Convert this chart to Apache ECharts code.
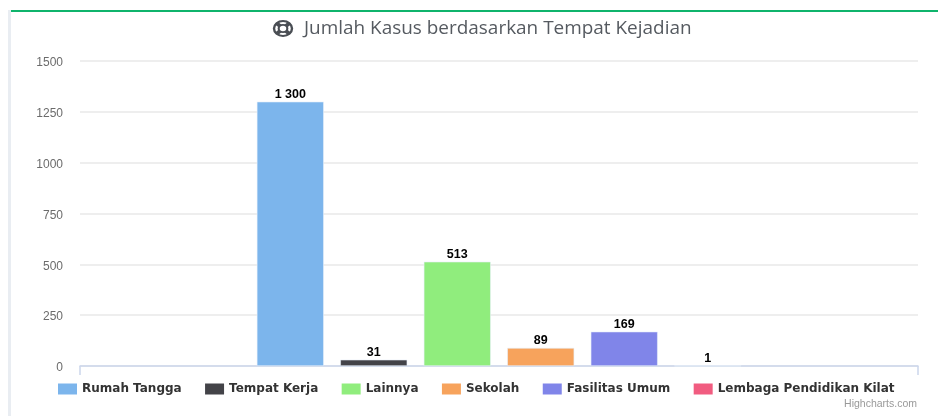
<!DOCTYPE html>
<html><head><meta charset="utf-8">
<style>html,body{margin:0;padding:0;background:#fff}#c{width:938px;height:416px}</style>
<script src="https://cdn.jsdelivr.net/npm/echarts@6/dist/echarts.min.js"></script>
</head><body><div id="c"></div>
<script>
const categoryLabels = ['Tempat Kejadian'];
const seriesNames = ['Rumah Tangga','Tempat Kerja','Lainnya','Sekolah','Fasilitas Umum','Lembaga Pendidikan Kilat'];
const seriesValues = [1300,31,513,89,169,1];
const seriesColors = ['#7cb5ec','#434348','#90ed7d','#f7a35c','#8085e9','#f15c80'];
const yTicks = [0,250,500,750,1000,1250,1500];
const titleText = 'Jumlah Kasus berdasarkan Tempat Kejadian';
const creditText = 'Highcharts.com';

const chart = echarts.init(document.getElementById('c'), null, {renderer:'canvas'});
chart.setOption({
  animation:false,
  backgroundColor:'#ffffff',
  title:[
    {text:titleText,left:304,top:17,padding:0,textStyle:{fontFamily:'Open Sans',fontSize:18.95,fontWeight:'normal',lineHeight:24,color:'#555a60'}},
    {text:creditText,right:21,top:399,padding:0,textStyle:{fontFamily:'Liberation Sans',fontSize:10.5,fontWeight:'normal',color:'#999999'}}
  ],
  legend:{
    left:58,top:383,padding:0,itemWidth:19,itemHeight:11,itemGap:23.4,
    icon:'rect',
    itemStyle:{borderWidth:0},
    data:seriesNames,
    textStyle:{fontFamily:'DejaVu Sans',fontSize:12,fontWeight:'bold',color:'#333333',padding:[0,0,0,0]}
  },
  grid:{left:80,right:20,top:61,bottom:50,containLabel:false},
  xAxis:{
    type:'category',data:categoryLabels,
    axisLine:{lineStyle:{color:'#ccd6eb',width:1.5}},
    axisTick:{show:true,length:9,lineStyle:{color:'#ccd6eb',width:1.5}},
    axisLabel:{show:false},splitLine:{show:false}
  },
  yAxis:{
    type:'value',min:yTicks[0],max:yTicks[yTicks.length-1],interval:yTicks[1]-yTicks[0],
    axisLine:{show:false},axisTick:{show:false},
    axisLabel:{margin:17,formatter:v=>'{t|'+v+'}',
      rich:{t:{fontFamily:'Liberation Sans',fontSize:12,color:'#6b6b6b',padding:[4,0,0,0]}}},
    splitLine:{lineStyle:{color:'#e9e9e9',width:1.5}}
  },
  series:seriesNames.map((n,i)=>({
    name:n,type:'bar',data:[seriesValues[i]],
    barWidth:67,barGap:'24.6%',
    itemStyle:{color:seriesColors[i],borderColor:'#e8f0fa',borderWidth:0.6},
    label:{show:true,position:'top',distance:1,
      formatter:p=>String(p.value).replace(/\B(?=(\d{3})+$)/g,' '),
      fontFamily:'Liberation Sans',fontSize:12.5,fontWeight:'bold',color:'#000000'}
  })),
  graphic:[
    {type:'rect',silent:true,shape:{x:8,y:10,width:3,height:406},style:{fill:'#e9edf2'}},
    {type:'rect',silent:true,shape:{x:11,y:10,width:927,height:2},style:{fill:'#0fb46c'}},
    {type:'group',silent:true,x:283,y:28.5,scaleX:1.2,children:[
      {type:'circle',shape:{cx:0,cy:0,r:7.5},style:{fill:'none',stroke:'#4a4e54',lineWidth:2}},
      {type:'circle',shape:{cx:0,cy:0,r:3.6},style:{fill:'none',stroke:'#4a4e54',lineWidth:1.8}},
      {type:'line',shape:{x1:-5.5,y1:-5.5,x2:-2.5,y2:-2.5},style:{stroke:'#4a4e54',lineWidth:3.6}},
      {type:'line',shape:{x1:5.5,y1:-5.5,x2:2.5,y2:-2.5},style:{stroke:'#4a4e54',lineWidth:3.6}},
      {type:'line',shape:{x1:-5.5,y1:5.5,x2:-2.5,y2:2.5},style:{stroke:'#4a4e54',lineWidth:3.6}},
      {type:'line',shape:{x1:5.5,y1:5.5,x2:2.5,y2:2.5},style:{stroke:'#4a4e54',lineWidth:3.6}}
    ]}
  ]
});
</script></body></html>
